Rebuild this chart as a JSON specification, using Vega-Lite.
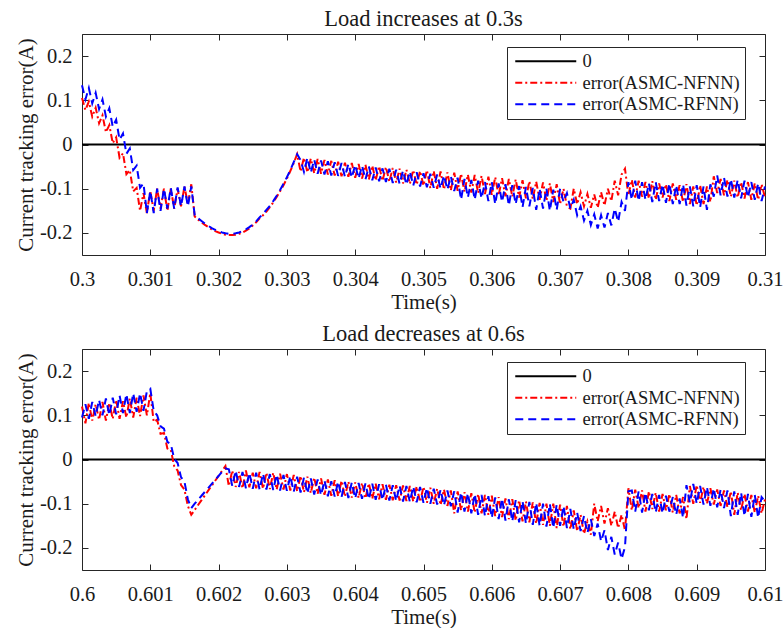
{
"$schema": "https://vega.github.io/schema/vega-lite/v6.json",
"padding": {"left": 15, "top": 7, "right": 0, "bottom": 0},
"background": "white",
"spacing": 9,
"config": {
 "font": "Liberation Serif",
 "view": {"stroke": "#262626", "strokeWidth": 1},
 "axis": {"labelFont": "Liberation Serif", "titleFont": "Liberation Serif", "labelFontSize": 20.5, "titleFontSize": 21, "titleFontWeight": "normal", "labelColor": "#1a1a1a", "titleColor": "#1a1a1a", "grid": false, "domain": false, "tickColor": "#262626", "tickSize": -6, "tickWidth": 1},
 "title": {"font": "Liberation Serif", "fontSize": 22.5, "fontWeight": "normal", "color": "#1a1a1a", "offset": 3},
 "legend": {"labelFont": "Liberation Serif", "labelFontSize": 18.5, "labelColor": "#1a1a1a", "labelLimit": 0, "strokeColor": "#262626", "fillColor": "#ffffff", "padding": 5, "symbolStrokeWidth": 2, "symbolType": "M-1.2,0H11", "symbolSize": 100, "rowPadding": 2.5, "labelOffset": 52},
 "locale": {"number": {"decimal": ".", "thousands": ",", "grouping": [3], "currency": ["$", ""], "minus": "-"}}
},
"resolve": {"scale": {"x": "independent", "y": "independent", "color": "independent", "strokeDash": "independent"}},
"datasets": {
"top": [
{"t":0.3,"a":0.105,"b":0.134},
{"t":0.30005,"a":0.078,"b":0.102},
{"t":0.3001,"a":0.097,"b":0.128},
{"t":0.30015,"a":0.063,"b":0.093},
{"t":0.3002,"a":0.083,"b":0.117},
{"t":0.30025,"a":0.048,"b":0.080},
{"t":0.3003,"a":0.066,"b":0.102},
{"t":0.30035,"a":0.028,"b":0.063},
{"t":0.3004,"a":0.044,"b":0.082},
{"t":0.30045,"a":0.003,"b":0.040},
{"t":0.3005,"a":0.016,"b":0.056},
{"t":0.30055,"a":-0.030,"b":0.011},
{"t":0.3006,"a":-0.020,"b":0.025},
{"t":0.30065,"a":-0.067,"b":-0.021},
{"t":0.3007,"a":-0.058,"b":-0.009},
{"t":0.30075,"a":-0.106,"b":-0.058},
{"t":0.3008,"a":-0.098,"b":-0.048},
{"t":0.30085,"a":-0.150,"b":-0.098},
{"t":0.3009,"a":-0.110,"b":-0.088},
{"t":0.30095,"a":-0.155,"b":-0.155},
{"t":0.301,"a":-0.105,"b":-0.105},
{"t":0.30105,"a":-0.150,"b":-0.155},
{"t":0.3011,"a":-0.100,"b":-0.100},
{"t":0.30115,"a":-0.145,"b":-0.150},
{"t":0.3012,"a":-0.100,"b":-0.100},
{"t":0.30125,"a":-0.150,"b":-0.145},
{"t":0.3013,"a":-0.100,"b":-0.098},
{"t":0.30135,"a":-0.145,"b":-0.145},
{"t":0.3014,"a":-0.100,"b":-0.097},
{"t":0.30145,"a":-0.140,"b":-0.140},
{"t":0.3015,"a":-0.095,"b":-0.095},
{"t":0.30155,"a":-0.135,"b":-0.140},
{"t":0.3016,"a":-0.090,"b":-0.095},
{"t":0.30165,"a":-0.163,"b":-0.160},
{"t":0.3017,"a":-0.170,"b":-0.167},
{"t":0.30175,"a":-0.176,"b":-0.173},
{"t":0.3018,"a":-0.182,"b":-0.179},
{"t":0.30185,"a":-0.187,"b":-0.184},
{"t":0.3019,"a":-0.192,"b":-0.189},
{"t":0.30195,"a":-0.196,"b":-0.193},
{"t":0.302,"a":-0.199,"b":-0.196},
{"t":0.30205,"a":-0.202,"b":-0.199},
{"t":0.3021,"a":-0.204,"b":-0.201},
{"t":0.30215,"a":-0.205,"b":-0.202},
{"t":0.3022,"a":-0.205,"b":-0.202},
{"t":0.30225,"a":-0.204,"b":-0.201},
{"t":0.3023,"a":-0.202,"b":-0.199},
{"t":0.30235,"a":-0.199,"b":-0.196},
{"t":0.3024,"a":-0.195,"b":-0.192},
{"t":0.30245,"a":-0.190,"b":-0.187},
{"t":0.3025,"a":-0.183,"b":-0.181},
{"t":0.30255,"a":-0.176,"b":-0.174},
{"t":0.3026,"a":-0.167,"b":-0.165},
{"t":0.30265,"a":-0.160,"b":-0.157},
{"t":0.3027,"a":-0.152,"b":-0.148},
{"t":0.30275,"a":-0.142,"b":-0.139},
{"t":0.3028,"a":-0.131,"b":-0.128},
{"t":0.30285,"a":-0.119,"b":-0.116},
{"t":0.3029,"a":-0.106,"b":-0.103},
{"t":0.30295,"a":-0.092,"b":-0.089},
{"t":0.303,"a":-0.077,"b":-0.074},
{"t":0.30305,"a":-0.060,"b":-0.058},
{"t":0.3031,"a":-0.042,"b":-0.040},
{"t":0.30315,"a":-0.022,"b":-0.022},
{"t":0.3032,"a":-0.061,"b":-0.035},
{"t":0.30325,"a":-0.030,"b":-0.062},
{"t":0.3033,"a":-0.063,"b":-0.030},
{"t":0.30335,"a":-0.032,"b":-0.064},
{"t":0.3034,"a":-0.065,"b":-0.034},
{"t":0.30345,"a":-0.033,"b":-0.066},
{"t":0.3035,"a":-0.066,"b":-0.036},
{"t":0.30355,"a":-0.035,"b":-0.068},
{"t":0.3036,"a":-0.068,"b":-0.038},
{"t":0.30365,"a":-0.037,"b":-0.070},
{"t":0.3037,"a":-0.070,"b":-0.040},
{"t":0.30375,"a":-0.039,"b":-0.071},
{"t":0.3038,"a":-0.072,"b":-0.042},
{"t":0.30385,"a":-0.041,"b":-0.073},
{"t":0.3039,"a":-0.073,"b":-0.044},
{"t":0.30395,"a":-0.042,"b":-0.075},
{"t":0.304,"a":-0.075,"b":-0.046},
{"t":0.30405,"a":-0.044,"b":-0.077},
{"t":0.3041,"a":-0.077,"b":-0.048},
{"t":0.30415,"a":-0.046,"b":-0.079},
{"t":0.3042,"a":-0.079,"b":-0.050},
{"t":0.30425,"a":-0.048,"b":-0.081},
{"t":0.3043,"a":-0.081,"b":-0.052},
{"t":0.30435,"a":-0.049,"b":-0.083},
{"t":0.3044,"a":-0.082,"b":-0.054},
{"t":0.30445,"a":-0.051,"b":-0.085},
{"t":0.3045,"a":-0.084,"b":-0.055},
{"t":0.30455,"a":-0.053,"b":-0.087},
{"t":0.3046,"a":-0.086,"b":-0.057},
{"t":0.30465,"a":-0.055,"b":-0.089},
{"t":0.3047,"a":-0.088,"b":-0.059},
{"t":0.30475,"a":-0.057,"b":-0.091},
{"t":0.3048,"a":-0.089,"b":-0.061},
{"t":0.30485,"a":-0.058,"b":-0.093},
{"t":0.3049,"a":-0.091,"b":-0.063},
{"t":0.30495,"a":-0.060,"b":-0.095},
{"t":0.305,"a":-0.093,"b":-0.065},
{"t":0.30505,"a":-0.058,"b":-0.097},
{"t":0.3051,"a":-0.099,"b":-0.066},
{"t":0.30515,"a":-0.060,"b":-0.098},
{"t":0.3052,"a":-0.100,"b":-0.068},
{"t":0.30525,"a":-0.061,"b":-0.100},
{"t":0.3053,"a":-0.102,"b":-0.070},
{"t":0.30535,"a":-0.063,"b":-0.102},
{"t":0.3054,"a":-0.104,"b":-0.072},
{"t":0.30545,"a":-0.064,"b":-0.105},
{"t":0.3055,"a":-0.105,"b":-0.075},
{"t":0.30555,"a":-0.066,"b":-0.125},
{"t":0.3056,"a":-0.107,"b":-0.078},
{"t":0.30565,"a":-0.068,"b":-0.120},
{"t":0.3057,"a":-0.109,"b":-0.080},
{"t":0.30575,"a":-0.069,"b":-0.125},
{"t":0.3058,"a":-0.110,"b":-0.082},
{"t":0.30585,"a":-0.071,"b":-0.122},
{"t":0.3059,"a":-0.112,"b":-0.085},
{"t":0.30595,"a":-0.073,"b":-0.128},
{"t":0.306,"a":-0.114,"b":-0.085},
{"t":0.30605,"a":-0.074,"b":-0.135},
{"t":0.3061,"a":-0.115,"b":-0.088},
{"t":0.30615,"a":-0.076,"b":-0.130},
{"t":0.3062,"a":-0.117,"b":-0.090},
{"t":0.30625,"a":-0.078,"b":-0.138},
{"t":0.3063,"a":-0.118,"b":-0.092},
{"t":0.30635,"a":-0.079,"b":-0.135},
{"t":0.3064,"a":-0.120,"b":-0.094},
{"t":0.30645,"a":-0.081,"b":-0.142},
{"t":0.3065,"a":-0.122,"b":-0.096},
{"t":0.30655,"a":-0.083,"b":-0.140},
{"t":0.3066,"a":-0.123,"b":-0.098},
{"t":0.30665,"a":-0.084,"b":-0.148},
{"t":0.3067,"a":-0.125,"b":-0.100},
{"t":0.30675,"a":-0.086,"b":-0.145},
{"t":0.3068,"a":-0.127,"b":-0.100},
{"t":0.30685,"a":-0.088,"b":-0.150},
{"t":0.3069,"a":-0.130,"b":-0.102},
{"t":0.30695,"a":-0.090,"b":-0.148},
{"t":0.307,"a":-0.135,"b":-0.100},
{"t":0.30705,"a":-0.100,"b":-0.130},
{"t":0.3071,"a":-0.140,"b":-0.110},
{"t":0.30715,"a":-0.145,"b":-0.145},
{"t":0.3072,"a":-0.100,"b":-0.125},
{"t":0.30725,"a":-0.135,"b":-0.160},
{"t":0.3073,"a":-0.108,"b":-0.140},
{"t":0.30735,"a":-0.140,"b":-0.172},
{"t":0.3074,"a":-0.112,"b":-0.150},
{"t":0.30745,"a":-0.143,"b":-0.182},
{"t":0.3075,"a":-0.113,"b":-0.158},
{"t":0.30755,"a":-0.143,"b":-0.190},
{"t":0.3076,"a":-0.108,"b":-0.160},
{"t":0.30765,"a":-0.138,"b":-0.188},
{"t":0.3077,"a":-0.100,"b":-0.155},
{"t":0.30775,"a":-0.128,"b":-0.183},
{"t":0.3078,"a":-0.082,"b":-0.145},
{"t":0.30785,"a":-0.115,"b":-0.175},
{"t":0.3079,"a":-0.068,"b":-0.130},
{"t":0.30795,"a":-0.055,"b":-0.150},
{"t":0.308,"a":-0.115,"b":-0.085},
{"t":0.30805,"a":-0.080,"b":-0.125},
{"t":0.3081,"a":-0.120,"b":-0.082},
{"t":0.30815,"a":-0.082,"b":-0.128},
{"t":0.3082,"a":-0.118,"b":-0.085},
{"t":0.30825,"a":-0.085,"b":-0.125},
{"t":0.3083,"a":-0.122,"b":-0.088},
{"t":0.30835,"a":-0.083,"b":-0.130},
{"t":0.3084,"a":-0.125,"b":-0.085},
{"t":0.30845,"a":-0.088,"b":-0.128},
{"t":0.3085,"a":-0.120,"b":-0.090},
{"t":0.30855,"a":-0.090,"b":-0.132},
{"t":0.3086,"a":-0.128,"b":-0.088},
{"t":0.30865,"a":-0.088,"b":-0.135},
{"t":0.3087,"a":-0.125,"b":-0.092},
{"t":0.30875,"a":-0.092,"b":-0.135},
{"t":0.3088,"a":-0.130,"b":-0.090},
{"t":0.30885,"a":-0.090,"b":-0.138},
{"t":0.3089,"a":-0.135,"b":-0.095},
{"t":0.30895,"a":-0.095,"b":-0.140},
{"t":0.309,"a":-0.138,"b":-0.092},
{"t":0.30905,"a":-0.092,"b":-0.142},
{"t":0.3091,"a":-0.135,"b":-0.095},
{"t":0.30915,"a":-0.095,"b":-0.148},
{"t":0.3092,"a":-0.130,"b":-0.090},
{"t":0.30925,"a":-0.072,"b":-0.118},
{"t":0.3093,"a":-0.110,"b":-0.070},
{"t":0.30935,"a":-0.078,"b":-0.115},
{"t":0.3094,"a":-0.115,"b":-0.075},
{"t":0.30945,"a":-0.080,"b":-0.118},
{"t":0.3095,"a":-0.118,"b":-0.078},
{"t":0.30955,"a":-0.082,"b":-0.120},
{"t":0.3096,"a":-0.120,"b":-0.080},
{"t":0.30965,"a":-0.085,"b":-0.122},
{"t":0.3097,"a":-0.122,"b":-0.082},
{"t":0.30975,"a":-0.085,"b":-0.120},
{"t":0.3098,"a":-0.125,"b":-0.085},
{"t":0.30985,"a":-0.088,"b":-0.125},
{"t":0.3099,"a":-0.125,"b":-0.088},
{"t":0.30995,"a":-0.090,"b":-0.128},
{"t":0.31,"a":-0.120,"b":-0.095}
],
"bot": [
{"t":0.6,"a":0.120,"b":0.095},
{"t":0.60005,"a":0.082,"b":0.125},
{"t":0.6001,"a":0.128,"b":0.092},
{"t":0.60015,"a":0.088,"b":0.130},
{"t":0.6002,"a":0.125,"b":0.098},
{"t":0.60025,"a":0.090,"b":0.135},
{"t":0.6003,"a":0.130,"b":0.100},
{"t":0.60035,"a":0.088,"b":0.138},
{"t":0.6004,"a":0.128,"b":0.100},
{"t":0.60045,"a":0.092,"b":0.140},
{"t":0.6005,"a":0.135,"b":0.102},
{"t":0.60055,"a":0.092,"b":0.145},
{"t":0.6006,"a":0.132,"b":0.105},
{"t":0.60065,"a":0.095,"b":0.148},
{"t":0.6007,"a":0.138,"b":0.105},
{"t":0.60075,"a":0.095,"b":0.150},
{"t":0.6008,"a":0.140,"b":0.108},
{"t":0.60085,"a":0.098,"b":0.150},
{"t":0.6009,"a":0.145,"b":0.110},
{"t":0.60095,"a":0.100,"b":0.155},
{"t":0.601,"a":0.150,"b":0.160},
{"t":0.60105,"a":0.085,"b":0.110},
{"t":0.6011,"a":0.090,"b":0.100},
{"t":0.60115,"a":0.058,"b":0.075},
{"t":0.6012,"a":0.060,"b":0.070},
{"t":0.60125,"a":0.025,"b":0.040},
{"t":0.6013,"a":0.022,"b":0.035},
{"t":0.60135,"a":-0.015,"b":0.002},
{"t":0.6014,"a":-0.025,"b":-0.008},
{"t":0.60145,"a":-0.058,"b":-0.040},
{"t":0.6015,"a":-0.068,"b":-0.050},
{"t":0.60155,"a":-0.105,"b":-0.090},
{"t":0.6016,"a":-0.125,"b":-0.110},
{"t":0.60165,"a":-0.114,"b":-0.100},
{"t":0.6017,"a":-0.103,"b":-0.091},
{"t":0.60175,"a":-0.092,"b":-0.082},
{"t":0.6018,"a":-0.081,"b":-0.073},
{"t":0.60185,"a":-0.070,"b":-0.064},
{"t":0.6019,"a":-0.059,"b":-0.055},
{"t":0.60195,"a":-0.048,"b":-0.046},
{"t":0.602,"a":-0.037,"b":-0.037},
{"t":0.60205,"a":-0.026,"b":-0.028},
{"t":0.6021,"a":-0.015,"b":-0.020},
{"t":0.60215,"a":-0.060,"b":-0.022},
{"t":0.6022,"a":-0.025,"b":-0.060},
{"t":0.60225,"a":-0.062,"b":-0.025},
{"t":0.6023,"a":-0.028,"b":-0.062},
{"t":0.60235,"a":-0.065,"b":-0.028},
{"t":0.6024,"a":-0.025,"b":-0.065},
{"t":0.60245,"a":-0.063,"b":-0.030},
{"t":0.6025,"a":-0.030,"b":-0.066},
{"t":0.60255,"a":-0.065,"b":-0.030},
{"t":0.6026,"a":-0.028,"b":-0.068},
{"t":0.60265,"a":-0.066,"b":-0.032},
{"t":0.6027,"a":-0.030,"b":-0.068},
{"t":0.60275,"a":-0.067,"b":-0.033},
{"t":0.6028,"a":-0.030,"b":-0.069},
{"t":0.60285,"a":-0.068,"b":-0.034},
{"t":0.6029,"a":-0.032,"b":-0.070},
{"t":0.60295,"a":-0.068,"b":-0.035},
{"t":0.603,"a":-0.033,"b":-0.071},
{"t":0.60305,"a":-0.070,"b":-0.037},
{"t":0.6031,"a":-0.035,"b":-0.073},
{"t":0.60315,"a":-0.072,"b":-0.039},
{"t":0.6032,"a":-0.037,"b":-0.075},
{"t":0.60325,"a":-0.074,"b":-0.041},
{"t":0.6033,"a":-0.039,"b":-0.077},
{"t":0.60335,"a":-0.076,"b":-0.043},
{"t":0.6034,"a":-0.041,"b":-0.079},
{"t":0.60345,"a":-0.078,"b":-0.045},
{"t":0.6035,"a":-0.043,"b":-0.081},
{"t":0.60355,"a":-0.080,"b":-0.047},
{"t":0.6036,"a":-0.045,"b":-0.083},
{"t":0.60365,"a":-0.082,"b":-0.049},
{"t":0.6037,"a":-0.047,"b":-0.084},
{"t":0.60375,"a":-0.083,"b":-0.050},
{"t":0.6038,"a":-0.048,"b":-0.085},
{"t":0.60385,"a":-0.084,"b":-0.051},
{"t":0.6039,"a":-0.050,"b":-0.087},
{"t":0.60395,"a":-0.086,"b":-0.052},
{"t":0.604,"a":-0.052,"b":-0.088},
{"t":0.60405,"a":-0.087,"b":-0.053},
{"t":0.6041,"a":-0.053,"b":-0.089},
{"t":0.60415,"a":-0.088,"b":-0.054},
{"t":0.6042,"a":-0.054,"b":-0.090},
{"t":0.60425,"a":-0.089,"b":-0.055},
{"t":0.6043,"a":-0.055,"b":-0.091},
{"t":0.60435,"a":-0.090,"b":-0.056},
{"t":0.6044,"a":-0.056,"b":-0.092},
{"t":0.60445,"a":-0.091,"b":-0.057},
{"t":0.6045,"a":-0.057,"b":-0.093},
{"t":0.60455,"a":-0.092,"b":-0.058},
{"t":0.6046,"a":-0.058,"b":-0.094},
{"t":0.60465,"a":-0.093,"b":-0.059},
{"t":0.6047,"a":-0.059,"b":-0.095},
{"t":0.60475,"a":-0.094,"b":-0.060},
{"t":0.6048,"a":-0.060,"b":-0.096},
{"t":0.60485,"a":-0.095,"b":-0.061},
{"t":0.6049,"a":-0.061,"b":-0.097},
{"t":0.60495,"a":-0.096,"b":-0.062},
{"t":0.605,"a":-0.062,"b":-0.098},
{"t":0.60505,"a":-0.098,"b":-0.064},
{"t":0.6051,"a":-0.064,"b":-0.100},
{"t":0.60515,"a":-0.100,"b":-0.066},
{"t":0.6052,"a":-0.066,"b":-0.102},
{"t":0.60525,"a":-0.103,"b":-0.068},
{"t":0.6053,"a":-0.068,"b":-0.104},
{"t":0.60535,"a":-0.105,"b":-0.070},
{"t":0.6054,"a":-0.070,"b":-0.106},
{"t":0.60545,"a":-0.122,"b":-0.072},
{"t":0.6055,"a":-0.072,"b":-0.120},
{"t":0.60555,"a":-0.115,"b":-0.074},
{"t":0.6056,"a":-0.074,"b":-0.118},
{"t":0.60565,"a":-0.118,"b":-0.076},
{"t":0.6057,"a":-0.076,"b":-0.122},
{"t":0.60575,"a":-0.120,"b":-0.078},
{"t":0.6058,"a":-0.078,"b":-0.125},
{"t":0.60585,"a":-0.122,"b":-0.080},
{"t":0.6059,"a":-0.080,"b":-0.128},
{"t":0.60595,"a":-0.125,"b":-0.083},
{"t":0.606,"a":-0.082,"b":-0.132},
{"t":0.60605,"a":-0.128,"b":-0.086},
{"t":0.6061,"a":-0.085,"b":-0.135},
{"t":0.60615,"a":-0.130,"b":-0.088},
{"t":0.6062,"a":-0.088,"b":-0.138},
{"t":0.60625,"a":-0.135,"b":-0.090},
{"t":0.6063,"a":-0.090,"b":-0.140},
{"t":0.60635,"a":-0.138,"b":-0.092},
{"t":0.6064,"a":-0.092,"b":-0.142},
{"t":0.60645,"a":-0.140,"b":-0.094},
{"t":0.6065,"a":-0.095,"b":-0.145},
{"t":0.60655,"a":-0.142,"b":-0.096},
{"t":0.6066,"a":-0.097,"b":-0.148},
{"t":0.60665,"a":-0.145,"b":-0.098},
{"t":0.6067,"a":-0.098,"b":-0.150},
{"t":0.60675,"a":-0.148,"b":-0.100},
{"t":0.6068,"a":-0.100,"b":-0.152},
{"t":0.60685,"a":-0.150,"b":-0.100},
{"t":0.6069,"a":-0.100,"b":-0.155},
{"t":0.60695,"a":-0.155,"b":-0.102},
{"t":0.607,"a":-0.102,"b":-0.150},
{"t":0.60705,"a":-0.152,"b":-0.105},
{"t":0.6071,"a":-0.105,"b":-0.155},
{"t":0.60715,"a":-0.158,"b":-0.112},
{"t":0.6072,"a":-0.115,"b":-0.158},
{"t":0.60725,"a":-0.162,"b":-0.120},
{"t":0.6073,"a":-0.125,"b":-0.162},
{"t":0.60735,"a":-0.168,"b":-0.128},
{"t":0.6074,"a":-0.140,"b":-0.166},
{"t":0.60745,"a":-0.170,"b":-0.135},
{"t":0.6075,"a":-0.100,"b":-0.173},
{"t":0.60755,"a":-0.140,"b":-0.145},
{"t":0.6076,"a":-0.105,"b":-0.185},
{"t":0.60765,"a":-0.145,"b":-0.160},
{"t":0.6077,"a":-0.110,"b":-0.205},
{"t":0.60775,"a":-0.150,"b":-0.175},
{"t":0.6078,"a":-0.118,"b":-0.215},
{"t":0.60785,"a":-0.155,"b":-0.188},
{"t":0.6079,"a":-0.125,"b":-0.225},
{"t":0.60795,"a":-0.160,"b":-0.198},
{"t":0.608,"a":-0.065,"b":-0.072},
{"t":0.60805,"a":-0.115,"b":-0.070},
{"t":0.6081,"a":-0.068,"b":-0.118},
{"t":0.60815,"a":-0.110,"b":-0.072},
{"t":0.6082,"a":-0.070,"b":-0.120},
{"t":0.60825,"a":-0.118,"b":-0.075},
{"t":0.6083,"a":-0.072,"b":-0.115},
{"t":0.60835,"a":-0.112,"b":-0.078},
{"t":0.6084,"a":-0.075,"b":-0.120},
{"t":0.60845,"a":-0.118,"b":-0.080},
{"t":0.6085,"a":-0.078,"b":-0.122},
{"t":0.60855,"a":-0.115,"b":-0.082},
{"t":0.6086,"a":-0.078,"b":-0.118},
{"t":0.60865,"a":-0.120,"b":-0.085},
{"t":0.6087,"a":-0.080,"b":-0.125},
{"t":0.60875,"a":-0.122,"b":-0.088},
{"t":0.6088,"a":-0.085,"b":-0.132},
{"t":0.60885,"a":-0.135,"b":-0.058},
{"t":0.6089,"a":-0.060,"b":-0.098},
{"t":0.60895,"a":-0.100,"b":-0.055},
{"t":0.609,"a":-0.058,"b":-0.100},
{"t":0.60905,"a":-0.098,"b":-0.060},
{"t":0.6091,"a":-0.062,"b":-0.102},
{"t":0.60915,"a":-0.100,"b":-0.062},
{"t":0.6092,"a":-0.065,"b":-0.105},
{"t":0.60925,"a":-0.102,"b":-0.065},
{"t":0.6093,"a":-0.068,"b":-0.108},
{"t":0.60935,"a":-0.105,"b":-0.068},
{"t":0.6094,"a":-0.070,"b":-0.110},
{"t":0.60945,"a":-0.108,"b":-0.070},
{"t":0.6095,"a":-0.072,"b":-0.128},
{"t":0.60955,"a":-0.125,"b":-0.072},
{"t":0.6096,"a":-0.075,"b":-0.125},
{"t":0.60965,"a":-0.115,"b":-0.075},
{"t":0.6097,"a":-0.078,"b":-0.128},
{"t":0.60975,"a":-0.118,"b":-0.078},
{"t":0.6098,"a":-0.080,"b":-0.130},
{"t":0.60985,"a":-0.120,"b":-0.080},
{"t":0.6099,"a":-0.082,"b":-0.132},
{"t":0.60995,"a":-0.122,"b":-0.085},
{"t":0.61,"a":-0.090,"b":-0.095}
]
},
"vconcat": [
{
 "title": "Load increases at 0.3s",
 "width": 683, "height": 221,
 "resolve": {"axis": {"x": "independent", "y": "independent"}},
 "layer": [
  {
   "data": {"values": [{"t": 0.3, "e": 0, "s": "z"}, {"t": 0.31, "e": 0, "s": "z"}]},
   "mark": {"type": "line", "strokeWidth": 2},
   "encoding": {
    "x": {"field": "t", "type": "quantitative", "scale": {"domain": [0.3, 0.31], "nice": false, "zero": false}, "axis": null},
    "y": {"field": "e", "type": "quantitative", "scale": {"domain": [-0.25, 0.25], "nice": false, "zero": false}, "axis": null},
    "color": {"field": "s", "type": "nominal", "scale": {"domain": ["z", "a", "b"], "range": ["#000000", "#ff0000", "#0000ff"]},
      "legend": {"title": null, "orient": "none", "legendX": 425, "legendY": 13, "symbolType": "M-1.2,0H11", "labelExpr": "datum.value == 'z' ? '0' : datum.value == 'a' ? 'error(ASMC-NFNN)' : 'error(ASMC-RFNN)'"}},
    "strokeDash": {"field": "s", "type": "nominal", "scale": {"domain": ["z", "a", "b"], "range": [[1, 0], [7, 3, 2, 3], [8, 5]]},
      "legend": {"title": null, "orient": "none", "legendX": 425, "legendY": 13, "symbolType": "M-1.2,0H11", "labelExpr": "datum.value == 'z' ? '0' : datum.value == 'a' ? 'error(ASMC-NFNN)' : 'error(ASMC-RFNN)'"}}
   }
  },
  {
   "data": {"name": "top"},
   "transform": [{"fold": ["a", "b"], "as": ["s", "e"]}],
   "mark": {"type": "line", "strokeWidth": 2},
   "encoding": {
    "x": {"field": "t", "type": "quantitative", "axis": {"title": "Time(s)", "values": [0.3, 0.301, 0.302, 0.303, 0.304, 0.305, 0.306, 0.307, 0.308, 0.309, 0.31], "format": "~g", "labelPadding": 20, "titlePadding": 2, "labelFlush": false}},
    "y": {"field": "e", "type": "quantitative", "axis": {"title": "Current tracking error(A)", "values": [-0.2, -0.1, 0, 0.1, 0.2], "format": "~g", "labelPadding": 16, "titlePadding": 3}},
    "color": {"field": "s", "type": "nominal"},
    "strokeDash": {"field": "s", "type": "nominal"}
   }
  },
  {
   "data": {"values": [{"t": 0.3, "e": 0}]},
   "mark": {"type": "point", "opacity": 0},
   "encoding": {
    "x": {"field": "t", "type": "quantitative", "axis": {"orient": "top", "labels": false, "title": null, "values": [0.3, 0.301, 0.302, 0.303, 0.304, 0.305, 0.306, 0.307, 0.308, 0.309, 0.31]}},
    "y": {"field": "e", "type": "quantitative", "axis": {"orient": "right", "labels": false, "title": null, "values": [-0.2, -0.1, 0, 0.1, 0.2]}}
   }
  }
 ]
},
{
 "title": "Load decreases at 0.6s",
 "width": 683, "height": 221,
 "resolve": {"axis": {"x": "independent", "y": "independent"}},
 "layer": [
  {
   "data": {"values": [{"t": 0.6, "e": 0, "s": "z"}, {"t": 0.61, "e": 0, "s": "z"}]},
   "mark": {"type": "line", "strokeWidth": 2},
   "encoding": {
    "x": {"field": "t", "type": "quantitative", "scale": {"domain": [0.6, 0.61], "nice": false, "zero": false}, "axis": null},
    "y": {"field": "e", "type": "quantitative", "scale": {"domain": [-0.25, 0.25], "nice": false, "zero": false}, "axis": null},
    "color": {"field": "s", "type": "nominal", "scale": {"domain": ["z", "a", "b"], "range": ["#000000", "#ff0000", "#0000ff"]},
      "legend": {"title": null, "orient": "none", "legendX": 425, "legendY": 13, "symbolType": "M-1.2,0H11", "labelExpr": "datum.value == 'z' ? '0' : datum.value == 'a' ? 'error(ASMC-NFNN)' : 'error(ASMC-RFNN)'"}},
    "strokeDash": {"field": "s", "type": "nominal", "scale": {"domain": ["z", "a", "b"], "range": [[1, 0], [7, 3, 2, 3], [8, 5]]},
      "legend": {"title": null, "orient": "none", "legendX": 425, "legendY": 13, "symbolType": "M-1.2,0H11", "labelExpr": "datum.value == 'z' ? '0' : datum.value == 'a' ? 'error(ASMC-NFNN)' : 'error(ASMC-RFNN)'"}}
   }
  },
  {
   "data": {"name": "bot"},
   "transform": [{"fold": ["a", "b"], "as": ["s", "e"]}],
   "mark": {"type": "line", "strokeWidth": 2},
   "encoding": {
    "x": {"field": "t", "type": "quantitative", "axis": {"title": "Time(s)", "values": [0.6, 0.601, 0.602, 0.603, 0.604, 0.605, 0.606, 0.607, 0.608, 0.609, 0.61], "format": "~g", "labelPadding": 20, "titlePadding": 2, "labelFlush": false}},
    "y": {"field": "e", "type": "quantitative", "axis": {"title": "Current tracking error(A)", "values": [-0.2, -0.1, 0, 0.1, 0.2], "format": "~g", "labelPadding": 16, "titlePadding": 3}},
    "color": {"field": "s", "type": "nominal"},
    "strokeDash": {"field": "s", "type": "nominal"}
   }
  },
  {
   "data": {"values": [{"t": 0.6, "e": 0}]},
   "mark": {"type": "point", "opacity": 0},
   "encoding": {
    "x": {"field": "t", "type": "quantitative", "axis": {"orient": "top", "labels": false, "title": null, "values": [0.6, 0.601, 0.602, 0.603, 0.604, 0.605, 0.606, 0.607, 0.608, 0.609, 0.61]}},
    "y": {"field": "e", "type": "quantitative", "axis": {"orient": "right", "labels": false, "title": null, "values": [-0.2, -0.1, 0, 0.1, 0.2]}}
   }
  }
 ]
}
]
}
